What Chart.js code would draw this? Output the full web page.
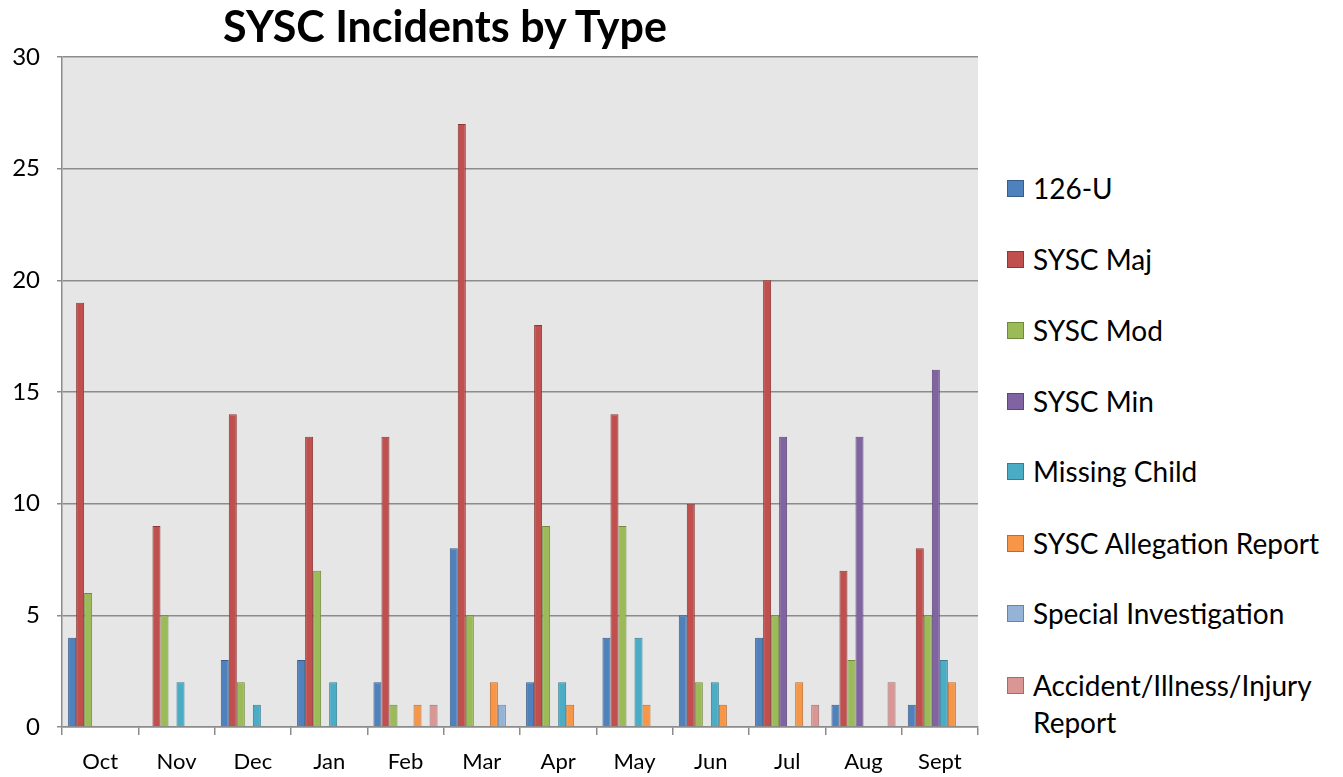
<!DOCTYPE html>
<html>
<head>
<meta charset="utf-8">
<script src="https://cdn.jsdelivr.net/npm/chart.js@4.4.1/dist/chart.umd.min.js"></script>
<style>
  body { margin: 0; background: #fff; font-family: Lato, sans-serif; }
  #wrap { position: relative; width: 1343px; height: 777px; }
  #chart { position: absolute; left: 0; top: 0; }
  #title {
    position: absolute; left: 0; top: 0; width: 890px;
    text-align: center; font-weight: bold; font-size: 43px; color: #000;
  }
  #legend { position: absolute; left: 1007px; top: 0; }
  .item { position: absolute; left: 0; display: flex; align-items: flex-start; white-space: nowrap; }
  .box { width: 15px; height: 15px; border: 1px solid; margin-top: 10px; margin-right: 9px; flex: none; }
  .label { font-size: 28px; line-height: 37px; color: #000; }
</style>
</head>
<body>
<div id="wrap">
  <canvas id="chart" width="990" height="777"></canvas>
  <div id="title">SYSC Incidents by Type</div>
  <div id="legend"></div>
</div>
<script>
const months = ['Oct', 'Nov', 'Dec', 'Jan', 'Feb', 'Mar', 'Apr', 'May', 'Jun', 'Jul', 'Aug', 'Sept'];

const seriesNames = [
  '126-U',
  'SYSC Maj',
  'SYSC Mod',
  'SYSC Min',
  'Missing Child',
  'SYSC Allegation Report',
  'Special Investigation',
  'Accident/Illness/Injury Report'
];

const u126 = [4, 0, 3, 3, 2, 8, 2, 4, 5, 4, 1, 1];
const syscMaj = [19, 9, 14, 13, 13, 27, 18, 14, 10, 20, 7, 8];
const syscMod = [6, 5, 2, 7, 1, 5, 9, 9, 2, 5, 3, 5];
const syscMin = [0, 0, 0, 0, 0, 0, 0, 0, 0, 13, 13, 16];
const missingChild = [0, 2, 1, 2, 0, 0, 2, 4, 2, 0, 0, 3];
const allegation = [0, 0, 0, 0, 1, 2, 1, 1, 1, 2, 0, 2];
const specialInv = [0, 0, 0, 0, 0, 1, 0, 0, 0, 0, 0, 0];
const accident = [0, 0, 0, 0, 1, 0, 0, 0, 0, 1, 2, 0];

const yTicks = [0, 5, 10, 15, 20, 25, 30];

const fills = ['#4f81bd', '#c0504d', '#9bbb59', '#8064a2', '#4bacc6', '#f79646', '#95b3d7', '#d99694'];
const edges = ['#385d8a', '#8c3836', '#71893f', '#5c4776', '#357d91', '#b66d31', '#6d83a0', '#9e6d6c'];

const seriesData = [u126, syscMaj, syscMod, syscMin, missingChild, allegation, specialInv, accident];

const datasets = seriesNames.map((name, i) => {
  return {
    label: name,
    data: seriesData[i],
    backgroundColor: fills[i],
    borderColor: edges[i],
    borderWidth: 1,
    borderSkipped: 'start',
    categoryPercentage: 0.84,
    barPercentage: 1.0
  };
});

// grey plot background like the original
const plotBackground = {
  id: 'plotBackground',
  beforeDraw(chart) {
    const a = chart.chartArea;
    const ctx = chart.ctx;
    ctx.save();
    ctx.fillStyle = '#e6e6e6';
    ctx.fillRect(a.left, a.top, a.right - a.left, a.bottom - a.top);
    ctx.restore();
  }
};

new Chart(document.getElementById('chart'), {
  type: 'bar',
  data: {
    labels: months,
    datasets: datasets
  },
  plugins: [plotBackground],
  options: {
    responsive: false,
    animation: false,
    layout: {
      padding: { top: 57, right: 12, bottom: 0, left: 0 }
    },
    plugins: {
      legend: { display: false },
      title: { display: false },
      tooltip: { enabled: false }
    },
    scales: {
      x: {
        afterFit: (scale) => { scale.height = 50; },
        grid: {
          display: true,
          drawOnChartArea: false,
          offset: true,
          tickLength: 8,
          color: '#8c8c8c',
          lineWidth: 1.5
        },
        border: { display: true, color: '#8c8c8c', width: 1.5 },
        ticks: {
          color: '#000',
          padding: 14,
          font: { family: 'Lato', size: 22 }
        }
      },
      y: {
        min: 0,
        max: 30,
        afterFit: (scale) => { scale.width = 62; },
        afterBuildTicks: (scale) => {
          scale.ticks = yTicks.map((v) => ({ value: v }));
        },
        grid: {
          color: '#8c8c8c',
          lineWidth: 1.5,
          tickLength: 5
        },
        border: { display: true, color: '#8c8c8c', width: 1.5 },
        ticks: {
          color: '#000',
          padding: 17,
          font: { family: 'Lato', size: 24 }
        }
      }
    }
  }
});

// legend drawn as html so the long label can wrap
const legendTops = [170, 241, 312, 383, 453, 525, 595, 667];
const legendEl = document.getElementById('legend');
seriesNames.forEach((name, i) => {
  const item = document.createElement('div');
  item.className = 'item';
  item.style.top = legendTops[i] + 'px';
  const box = document.createElement('div');
  box.className = 'box';
  box.style.background = fills[i];
  box.style.borderColor = edges[i];
  const label = document.createElement('div');
  label.className = 'label';
  label.innerHTML = name === 'Accident/Illness/Injury Report' ? 'Accident/Illness/Injury<br>Report' : name;
  item.appendChild(box);
  item.appendChild(label);
  legendEl.appendChild(item);
});
</script>
</body>
</html>
